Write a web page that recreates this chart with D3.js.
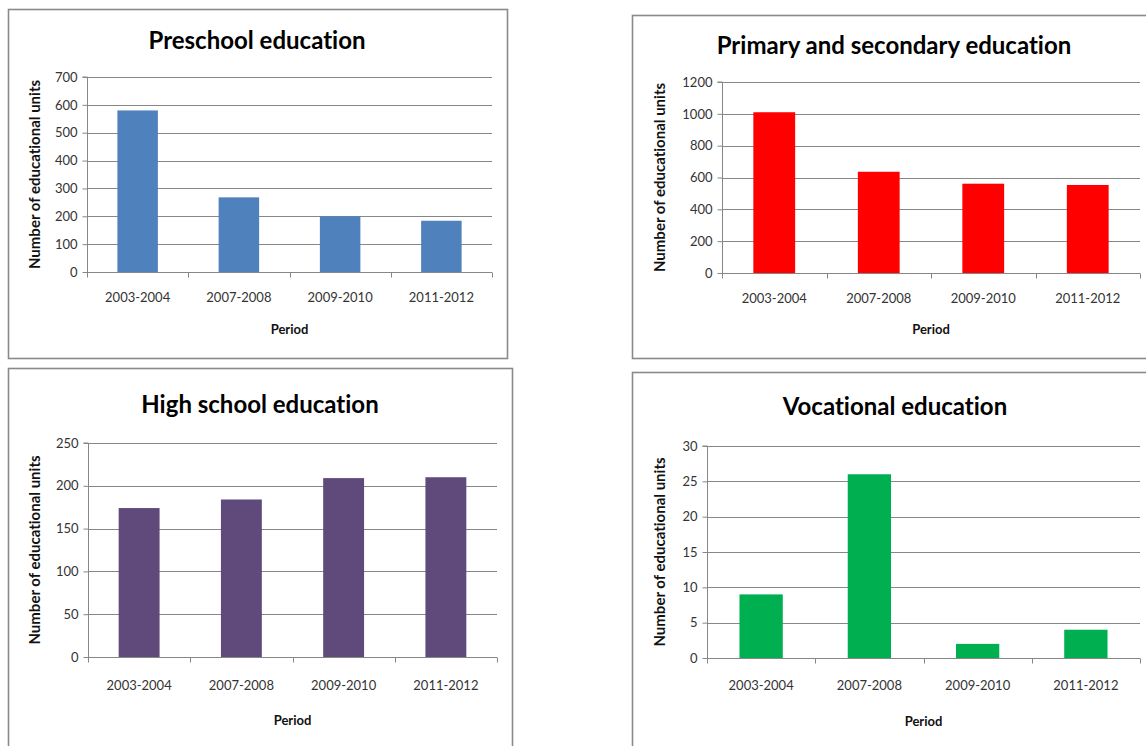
<!DOCTYPE html>
<html>
<head>
<meta charset="utf-8">
<script src="https://cdn.jsdelivr.net/npm/d3@7"></script>
<style>
  html, body { margin: 0; padding: 0; background: #fff; }
  svg { display: block; }
  text { font-family: Lato, "Open Sans", sans-serif; font-variant-ligatures: none; font-feature-settings: "liga" 0; }
</style>
</head>
<body>
<svg id="chart" width="1146" height="746"></svg>
<script>
// ---- data ----
const categories = ["2003-2004", "2007-2008", "2009-2010", "2011-2012"];
const titles = ["Preschool education", "Primary and secondary education", "High school education", "Vocational education"];
const preschool = [580, 268, 200, 184];
const primarySecondary = [1010, 636, 561, 553];
const highSchool = [174, 184, 209, 210];
const vocational = [9, 26, 2, 4];
const yTicksPreschool = [0, 100, 200, 300, 400, 500, 600, 700];
const yTicksPrimary = [0, 200, 400, 600, 800, 1000, 1200];
const yTicksHigh = [0, 50, 100, 150, 200, 250];
const yTicksVoc = [0, 5, 10, 15, 20, 25, 30];
const xAxisTitle = "Period";
const yAxisTitle = "Number of educational units";

// ---- styling / layout ----
const colors = ["#4F81BD", "#FF0000", "#604A7B", "#00B050"];
const layout = [
  { box: [8, 9, 499, 349], plot: [87, 77, 492, 272], titleX: 257, titleY: 49, yTitleX: 40, catY: 302, periodY: 334 },
  { box: [632, 15, 530, 343], plot: [722, 82, 1140, 273], titleX: 894, titleY: 54, yTitleX: 665, catY: 303, periodY: 334 },
  { box: [8, 368, 504, 400], plot: [88, 443, 497, 657], titleX: 260, titleY: 413, yTitleX: 40, catY: 690, periodY: 725 },
  { box: [632, 372, 530, 400], plot: [707, 446, 1140, 658], titleX: 895, titleY: 415, yTitleX: 665, catY: 690, periodY: 726 }
];
const series = [preschool, primarySecondary, highSchool, vocational];
const ticks = [yTicksPreschool, yTicksPrimary, yTicksHigh, yTicksVoc];

const svg = d3.select("#chart");
const gridColor = "#878787";

series.forEach((vals, i) => {
  const L = layout[i];
  const [bx, by, bw, bh] = L.box;
  const [x0, y0, x1, y1] = L.plot;
  const tks = ticks[i];

  // panel border
  svg.append("rect")
    .attr("x", bx + 0.5).attr("y", by + 0.5)
    .attr("width", bw).attr("height", bh)
    .attr("fill", "#fff").attr("stroke", "#8a8a8a").attr("stroke-width", 1.6);

  const x = d3.scaleBand().domain(categories).range([x0, x1]).paddingInner(0.6).paddingOuter(0.3);
  const xEdges = d3.scaleLinear().domain([0, categories.length]).range([x0, x1]);
  const y = d3.scaleLinear().domain([0, d3.max(tks)]).range([y1, y0]);

  const g = svg.append("g");

  // gridlines
  g.selectAll(".grid").data(tks.filter(t => t > 0)).enter().append("line")
    .attr("x1", x0).attr("x2", x1)
    .attr("y1", d => Math.round(y(d)) + 0.5).attr("y2", d => Math.round(y(d)) + 0.5)
    .attr("stroke", gridColor).attr("stroke-width", 1);

  // y axis
  const yAxis = d3.axisLeft(y).tickValues(tks).tickSize(5).tickPadding(5).tickFormat(d3.format("d"));
  const ya = g.append("g").attr("transform", `translate(${Math.round(x0) + 0.5},0)`).call(yAxis);
  ya.select(".domain").attr("stroke", gridColor).attr("d", `M-5,${y(d3.max(tks))}H0V${y1}`);
  ya.selectAll(".tick line").attr("stroke", gridColor);
  ya.selectAll(".tick text").attr("fill", "#333").style("font-size", "13px").style("font-family", "Lato, sans-serif");

  // x axis (ticks at category boundaries)
  const xa = g.append("g").attr("transform", `translate(0,${Math.round(y1) + 0.5})`);
  xa.append("line").attr("x1", x0).attr("x2", x1).attr("y1", 0).attr("y2", 0).attr("stroke", gridColor);
  xa.selectAll(".xt").data(d3.range(categories.length + 1)).enter().append("line")
    .attr("x1", d => Math.round(xEdges(d)) + 0.5).attr("x2", d => Math.round(xEdges(d)) + 0.5)
    .attr("y1", 0).attr("y2", 5).attr("stroke", gridColor);

  // bars
  g.selectAll(".bar").data(vals).enter().append("rect")
    .attr("x", (d, j) => x(categories[j]))
    .attr("y", d => y(d))
    .attr("width", x.bandwidth())
    .attr("height", d => y(0) - y(d))
    .attr("fill", colors[i]);

  // category labels
  g.selectAll(".cat").data(categories).enter().append("text")
    .attr("x", d => x(d) + x.bandwidth() / 2)
    .attr("y", L.catY)
    .attr("text-anchor", "middle")
    .attr("fill", "#333")
    .style("font-size", "13px")
    .text(d => d);

  // axis titles
  g.append("text")
    .attr("x", (x0 + x1) / 2).attr("y", L.periodY)
    .attr("text-anchor", "middle").attr("font-weight", "bold")
    .style("font-size", "13px").attr("fill", "#111")
    .text(xAxisTitle);

  g.append("text")
    .attr("transform", `translate(${L.yTitleX},${(y0 + y1) / 2}) rotate(-90)`)
    .attr("text-anchor", "middle").attr("font-weight", "bold")
    .style("font-size", "15px").attr("fill", "#111")
    .text(yAxisTitle);

  // chart title
  g.append("text")
    .attr("x", L.titleX).attr("y", L.titleY)
    .attr("text-anchor", "middle").attr("font-weight", "bold")
    .style("font-size", "24px").attr("fill", "#000")
    .text(titles[i]);
});
</script>
</body>
</html>
